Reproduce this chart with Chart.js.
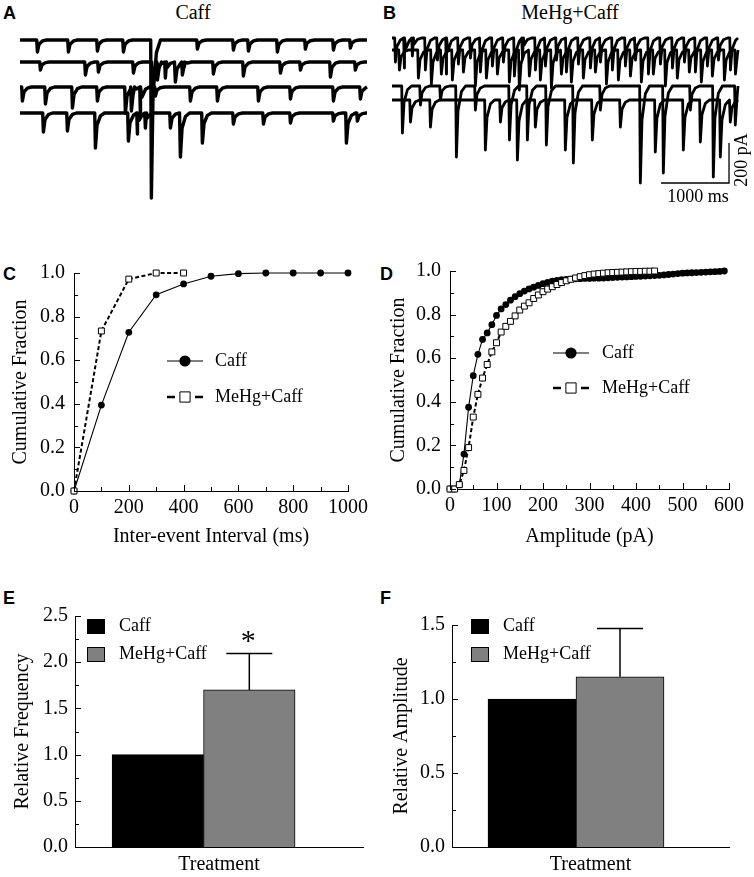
<!DOCTYPE html>
<html><head><meta charset="utf-8">
<script src="https://cdn.jsdelivr.net/npm/chart.js@4.4.1/dist/chart.umd.min.js"></script>
<style>
html,body{margin:0;padding:0;background:#fff;}
#fig{position:relative;width:754px;height:877px;overflow:hidden;background:#fff;}
canvas{position:absolute;}
.lbl{position:absolute;font-family:'Liberation Sans',Arial,sans-serif;font-weight:bold;font-size:18px;line-height:18px;color:#000;}
.ttl{position:absolute;font-family:'Liberation Serif','Times New Roman',serif;font-size:20px;line-height:20px;color:#000;white-space:nowrap;transform:translateX(-50%);}
</style></head><body>
<div id="fig">
  <div class="lbl" style="left:3px;top:4px">A</div>
  <div class="lbl" style="left:383px;top:4px">B</div>
  <div class="lbl" style="left:3px;top:265px">C</div>
  <div class="lbl" style="left:380px;top:265px">D</div>
  <div class="lbl" style="left:3px;top:589px">E</div>
  <div class="lbl" style="left:380px;top:589px">F</div>
  <div class="ttl" style="left:193px;top:2px">Caff</div>
  <div class="ttl" style="left:570px;top:2px">MeHg+Caff</div>
  <canvas id="cA" width="380" height="185" style="left:0px;top:25px"></canvas>
  <canvas id="cB" width="374" height="185" style="left:380px;top:25px"></canvas>
  <canvas id="cC" width="377" height="300" style="left:0px;top:250px"></canvas>
  <canvas id="cD" width="377" height="300" style="left:377px;top:250px"></canvas>
  <canvas id="cE" width="377" height="287" style="left:0px;top:590px"></canvas>
  <canvas id="cF" width="377" height="287" style="left:377px;top:590px"></canvas>
</div>
<script>
// ---------------- DATA ----------------
// Panel A (Caff) sample traces: event times (ms) and amplitudes (pA, inward)
const caffTrace1Times = [250, 706, 1132, 1515, 1926, 2603, 3132, 3353, 3779, 4191, 4603, 4853];
const caffTrace1Amps  = [60, 60, 55, 60, 790, 45, 50, 55, 60, 45, 50, 40];
const caffTrace2Times = [294, 956, 1147, 1662, 1941, 2015, 2132, 2279, 2382, 2838, 3279, 3824, 4118, 4559, 4926];
const caffTrace2Amps  = [40, 65, 50, 55, 130, 90, 80, 100, 65, 60, 70, 55, 40, 75, 40];
const caffTrace3Times = [29, 368, 765, 1132, 1544, 1632, 1765, 1985, 2500, 2897, 3500, 3971, 4603, 5000];
const caffTrace3Amps  = [70, 85, 105, 70, 130, 120, 145, 45, 70, 70, 70, 60, 70, 60];
const caffTrace4Times = [338, 691, 1103, 1588, 1721, 1838, 2206, 2353, 2676, 3132, 3574, 3971, 4603, 4794, 4956];
const caffTrace4Amps  = [95, 90, 175, 140, 105, 75, 75, 220, 150, 55, 55, 50, 40, 150, 40];
// Panel B (MeHg+Caff) sample traces
const mehgTrace1Times = [44, 176, 294, 485, 662, 794, 970, 1147, 1294, 1470, 1632, 1794, 1912, 2103, 2250, 2412, 2559, 2735, 2912, 3059, 3235, 3426, 3574, 3765, 3941, 4118, 4294, 4456, 4632, 4794, 4971];
const mehgTrace1Amps  = [120, 150, 90, 160, 110, 180, 130, 100, 170, 140, 120, 190, 100, 160, 140, 110, 170, 130, 150, 120, 160, 140, 110, 180, 130, 150, 120, 170, 140, 110, 160];
const mehgTrace2Times = [103, 382, 573, 720, 882, 1044, 1220, 1382, 1544, 1720, 1867, 2014, 2176, 2338, 2485, 2632, 2808, 2985, 3147, 3323, 3500, 3661, 3837, 4014, 4190, 4366, 4543, 4705, 4882, 5044];
const mehgTrace2Amps  = [100, 140, 170, 120, 150, 110, 180, 140, 120, 160, 200, 130, 150, 190, 120, 160, 140, 110, 170, 150, 130, 160, 120, 180, 140, 110, 160, 130, 150, 120];
const mehgTrace3Times = [147, 412, 706, 941, 1220, 1721, 1985, 2264, 2661, 3058, 3646, 3984, 4381, 4719, 5042];
const mehgTrace3Amps  = [235, 95, 70, 355, 120, 270, 270, 295, 385, 120, 485, 435, 120, 455, 195];
const mehgTrace4Times = [265, 559, 1367, 1588, 1838, 2102, 2543, 2940, 3352, 3866, 4278, 4528, 4822, 4969];
const mehgTrace4Amps  = [110, 135, 250, 110, 300, 135, 250, 200, 135, 260, 250, 210, 285, 110];

// Panel C: cumulative inter-event interval
const intervalMs        = [0, 100, 200, 300, 400, 500, 600, 700, 800, 900, 1000];
const caffIntervalFrac  = [0, 0.394, 0.728, 0.900, 0.950, 0.985, 0.997, 1.0, 1.0, 1.0, 1.0];
const mehgIntervalMs    = [0, 100, 200, 300, 400];
const mehgIntervalFrac  = [0, 0.734, 0.972, 1.0, 1.0];

// Panel D: cumulative amplitude
const caffAmpPA = [0,10,20,30,40,50,60,70,80,90,100,110,120,130,140,150,160,170,180,190,200,210,220,230,240,250,260,270,280,290,300,310,320,330,340,350,360,370,380,390,400,410,420,430,440,450,460,470,480,490,500,510,520,530,540,550,560,570,580,590];
const caffAmpFrac = [0,0,0.02,0.16,0.375,0.52,0.618,0.686,0.716,0.754,0.796,0.826,0.846,0.866,0.882,0.896,0.908,0.918,0.926,0.934,0.942,0.948,0.953,0.957,0.96,0.962,0.963,0.964,0.965,0.966,0.966,0.967,0.967,0.968,0.969,0.970,0.971,0.972,0.973,0.974,0.975,0.976,0.977,0.978,0.979,0.980,0.982,0.984,0.986,0.988,0.99,0.991,0.992,0.993,0.994,0.995,0.996,0.997,0.998,1.0];
const mehgAmpPA = [0,10,20,30,40,50,60,70,80,90,100,110,120,130,140,150,160,170,180,190,200,210,220,230,240,250,260,270,280,290,300,310,320,330,340,350,360,370,380,390,400,410,420,430,440];
const mehgAmpFrac = [0,0,0.02,0.085,0.19,0.33,0.434,0.509,0.571,0.629,0.671,0.72,0.746,0.769,0.794,0.821,0.839,0.854,0.874,0.89,0.905,0.917,0.928,0.938,0.947,0.955,0.962,0.968,0.974,0.979,0.983,0.986,0.988,0.99,0.992,0.993,0.994,0.995,0.996,0.997,0.998,0.998,0.999,0.999,1.0];

// Panels E, F: bar summaries
const groupNames  = ['Caff', 'MeHg+Caff'];
const freqMean    = [1.0, 1.70];
const freqErr     = [0, 0.40];
const freqMark    = ['', '*'];
const ampMean     = [1.0, 1.15];
const ampErr      = [0, 0.33];
const ampMark     = ['', ''];

// ---------------- STYLE / LAYOUT ----------------
const SERIF = "'Liberation Serif','Times New Roman',serif";
Chart.defaults.font.family = SERIF;
Chart.defaults.color = '#000';
Chart.defaults.animation = false;
Chart.defaults.responsive = false;
Chart.defaults.devicePixelRatio = 1;
Chart.defaults.events = [];
Chart.defaults.plugins.legend.display = false;
Chart.defaults.plugins.tooltip.enabled = false;

function buildTrace(times, amps, offset, endMs) {
  const pts = [{x: 0, y: offset}];
  times.forEach((t, i) => {
    const a = amps[i];
    pts.push({x: t - 4, y: offset}, {x: t + 6, y: offset - a}, {x: t + 30, y: offset - a * 0.35},
             {x: t + 80, y: offset - a * 0.08}, {x: t + 140, y: offset});
  });
  pts.push({x: endMs, y: offset});
  pts.sort((p, q) => p.x - q.x);
  return pts;
}

const scaleBarPlugin = {
  id: 'scaleBar',
  afterDatasetsDraw(chart, args, o) {
    if (!o || !o.enabled) return;
    const xs = chart.scales.x, ys = chart.scales.y, ctx = chart.ctx;
    const x1 = xs.getPixelForValue(o.endMs - o.ms), x2 = xs.getPixelForValue(o.endMs);
    const yb = ys.getPixelForValue(o.basePA), yt = ys.getPixelForValue(o.basePA + o.pA);
    ctx.save();
    ctx.strokeStyle = '#000'; ctx.lineWidth = 1.3;
    ctx.beginPath(); ctx.moveTo(x1, yb); ctx.lineTo(x2, yb); ctx.lineTo(x2, yt); ctx.stroke();
    ctx.fillStyle = '#000'; ctx.font = '18px ' + SERIF;
    ctx.textAlign = 'center'; ctx.textBaseline = 'middle';
    ctx.fillText(o.msLabel, (x1 + x2) / 2 + 3, yb + 14);
    ctx.translate(x2 + 13, (yb + yt) / 2 - 3); ctx.rotate(-Math.PI / 2);
    ctx.fillText(o.pALabel, 0, 0);
    ctx.restore();
  }
};

const inTicks = {
  id: 'inTicks',
  afterDraw(chart, args, o) {
    if (!o || (!o.x && !o.y)) return;
    const ctx = chart.ctx;
    ctx.save(); ctx.strokeStyle = '#000'; ctx.lineWidth = 1;
    ['x', 'y'].forEach(id => {
      const spec = o[id]; if (!spec) return;
      const s = chart.scales[id];
      const n = Math.round((spec.max - spec.min) / spec.step);
      for (let i = 0; i <= n; i++) {
        const v = spec.min + i * spec.step;
        const len = (i % spec.every === 0) ? spec.major : spec.minor;
        const p = Math.round(s.getPixelForValue(v)) + 0.5;
        ctx.beginPath();
        if (id === 'x') { ctx.moveTo(p, s.top); ctx.lineTo(p, s.top - len); }
        else { ctx.moveTo(s.right, p); ctx.lineTo(s.right + len, p); }
        ctx.stroke();
      }
    });
    ctx.restore();
  }
};

const curveLegend = {
  id: 'curveLegend',
  afterDraw(chart, args, o) {
    if (!o || !o.items) return;
    const ctx = chart.ctx;
    o.items.forEach((it, i) => {
      const ds = chart.data.datasets[it.ds];
      const x = o.x, y = o.y + i * o.dy, h = o.half;
      ctx.save();
      ctx.strokeStyle = '#000';
      ctx.lineWidth = it.lw;
      ctx.beginPath();
      if (it.split) { ctx.moveTo(x - h, y); ctx.lineTo(x - h + 8, y); ctx.moveTo(x + h - 8, y); ctx.lineTo(x + h, y); }
      else { ctx.moveTo(x - h, y); ctx.lineTo(x + h, y); }
      ctx.stroke();
      ctx.lineWidth = 1;
      if (it.marker === 'circle') {
        ctx.fillStyle = '#000'; ctx.beginPath(); ctx.arc(x, y, o.r, 0, Math.PI * 2); ctx.fill();
      } else {
        ctx.fillStyle = '#fff'; ctx.beginPath(); ctx.rect(x - o.r + 0.5, y - o.r + 0.5, 2 * o.r - 1, 2 * o.r - 1); ctx.fill(); ctx.stroke();
      }
      ctx.fillStyle = '#000'; ctx.font = '18px ' + SERIF; ctx.textAlign = 'left'; ctx.textBaseline = 'middle';
      ctx.fillText(ds.label, o.tx, y);
      ctx.restore();
    });
  }
};

const barExtras = {
  id: 'barExtras',
  afterDatasetsDraw(chart, args, o) {
    if (!o || !o.err) return;
    const ctx = chart.ctx, ys = chart.scales.y;
    ctx.save();
    chart.data.datasets.forEach((ds, i) => {
      const bar = chart.getDatasetMeta(i).data[0];
      const err = o.err[i], mean = o.mean[i];
      if (err > 0) {
        const yTop = Math.round(ys.getPixelForValue(mean + err)) + 0.5;
        ctx.strokeStyle = '#000'; ctx.lineWidth = 1.5;
        ctx.beginPath(); ctx.moveTo(bar.x, bar.y); ctx.lineTo(bar.x, yTop);
        ctx.moveTo(bar.x - o.cap, yTop); ctx.lineTo(bar.x + o.cap, yTop); ctx.stroke();
        if (o.mark[i]) {
          ctx.fillStyle = '#000'; ctx.font = '30px ' + SERIF; ctx.textAlign = 'center'; ctx.textBaseline = 'alphabetic';
          ctx.fillText(o.mark[i], bar.x - 1, yTop - 4);
        }
      }
    });
    o.legend.forEach((lg, i) => {
      const y = o.ly + i * o.ldy;
      ctx.fillStyle = chart.data.datasets[i].backgroundColor;
      ctx.fillRect(o.lx, y, 18, 15);
      ctx.strokeStyle = '#000'; ctx.lineWidth = 1; ctx.strokeRect(o.lx + 0.5, y + 0.5, 17, 14);
      ctx.fillStyle = '#000'; ctx.font = '18px ' + SERIF; ctx.textAlign = 'left'; ctx.textBaseline = 'middle';
      ctx.fillText(lg, o.tx, y + 7.5);
    });
    ctx.restore();
  }
};

Chart.register(scaleBarPlugin, inTicks, curveLegend, barExtras);

// ---------------- TRACES ----------------
function traceChart(id, sets, offsets, xMax, padL, padR, lw, bar) {
  new Chart(document.getElementById(id), {
    type: 'line',
    data: { datasets: sets.map((s, i) => ({
      data: buildTrace(s[0], s[1], offsets[i], xMax),
      borderColor: '#000', borderWidth: lw, pointRadius: 0, tension: 0,
      borderJoinStyle: 'round', clip: false
    })) },
    options: {
      layout: { padding: { left: padL, right: padR, top: 0, bottom: 0 } },
      scales: {
        x: { type: 'linear', display: false, min: 0, max: xMax },
        y: { type: 'linear', display: false, min: -925, max: 0 }
      },
      plugins: { scaleBar: bar || { enabled: false } }
    }
  });
}
traceChart('cA', [[caffTrace1Times, caffTrace1Amps], [caffTrace2Times, caffTrace2Amps], [caffTrace3Times, caffTrace3Amps], [caffTrace4Times, caffTrace4Amps]],
  [-75, -185, -310, -440], 5103, 20, 13, 3.4);
traceChart('cB', [[mehgTrace1Times, mehgTrace1Amps], [mehgTrace2Times, mehgTrace2Amps], [mehgTrace3Times, mehgTrace3Amps], [mehgTrace4Times, mehgTrace4Amps]],
  [-65, -125, -305, -375], 5088, 12, 16, 2.8,
  { enabled: true, ms: 1000, pA: 200, endMs: 4956, basePA: -790, msLabel: '1000 ms', pALabel: '200 pA' });

// ---------------- CUMULATIVE ----------------
function cumChart(id, xs1, ys1, xs2, ys2, cfg) {
  new Chart(document.getElementById(id), {
    type: 'line',
    data: { datasets: [
      { label: 'MeHg+Caff', data: xs2.map((x, i) => ({x, y: ys2[i]})), borderColor: '#000', borderWidth: 2, borderDash: [4, 2.5],
        pointStyle: 'rect', pointRadius: 4.2, pointBackgroundColor: '#fff', pointBorderColor: '#000', pointBorderWidth: 1, tension: 0, clip: false },
      { label: 'Caff', data: xs1.map((x, i) => ({x, y: ys1[i]})), borderColor: '#000', borderWidth: 1.1,
        pointStyle: 'circle', pointRadius: 3.4, pointBackgroundColor: '#000', pointBorderColor: '#000', pointBorderWidth: 0, tension: 0, clip: false }
    ] },
    options: {
      layout: { padding: { left: 0, top: cfg.top, right: cfg.right, bottom: 0 } },
      scales: {
        x: { type: 'linear', min: 0, max: cfg.xMax,
          grid: { display: false, drawTicks: false }, border: { display: true, color: '#000', width: 1 },
          ticks: { stepSize: cfg.xStep, padding: 5, font: { size: 20 }, maxRotation: 0, autoSkip: false, callback: v => String(v) },
          title: { display: true, text: cfg.xTitle, font: { size: 20 }, padding: { top: 0, bottom: 1 } },
          afterFit(s) { s.height = cfg.xH; } },
        y: { type: 'linear', min: 0, max: 1,
          grid: { display: false, drawTicks: false }, border: { display: true, color: '#000', width: 1 },
          ticks: { stepSize: 0.2, padding: 9, font: { size: 20 }, callback: v => v.toFixed(1) },
          title: { display: true, text: 'Cumulative Fraction', font: { size: 20 }, padding: { top: cfg.yTitlePad, bottom: 0 } },
          afterFit(s) { s.width = cfg.yW; } }
      },
      plugins: {
        inTicks: { x: { min: 0, max: cfg.xMax, step: cfg.xMinor, every: 2, major: 6, minor: 4 },
                   y: { min: 0, max: 1, step: 0.1, every: 2, major: 6, minor: 4 } },
        curveLegend: { x: cfg.lgX, y: cfg.lgY, dy: cfg.lgDy, half: 18, r: 5.6, tx: cfg.lgTx,
          items: [ { ds: 1, marker: 'circle', lw: 1.2 }, { ds: 0, marker: 'rect', lw: 2.6, split: true } ] }
      }
    }
  });
}
cumChart('cC', intervalMs, caffIntervalFrac, mehgIntervalMs, mehgIntervalFrac,
  { xMax: 1000, xStep: 200, xMinor: 100, xTitle: 'Inter-event Interval (ms)', top: 23, right: 29, xH: 59, yW: 74, yTitlePad: 9,
    lgX: 185, lgY: 111, lgDy: 36, lgTx: 215 });
cumChart('cD', caffAmpPA, caffAmpFrac, mehgAmpPA, mehgAmpFrac,
  { xMax: 600, xStep: 100, xMinor: 50, xTitle: 'Amplitude (pA)', top: 18, right: 25, xH: 61, yW: 73, yTitlePad: 9.5,
    lgX: 194, lgY: 103, lgDy: 35, lgTx: 225 });

// ---------------- BARS ----------------
function barChart(id, means, errs, marks, cfg) {
  new Chart(document.getElementById(id), {
    type: 'bar',
    data: { datasets: groupNames.map((g, i) => ({
      label: g, data: [{ x: 0, y: means[i] }],
      backgroundColor: i === 0 ? '#000000' : '#808080', borderColor: '#000', borderWidth: 1,
      barThickness: cfg.bw
    })) },
    options: {
      layout: { padding: { left: 0, top: cfg.top, right: cfg.right, bottom: 0 } },
      scales: {
        x: { type: 'linear', min: -1, max: cfg.xMax, offset: false,
          grid: { display: false, drawTicks: false }, border: { display: true, color: '#000', width: 1 },
          ticks: { display: false },
          title: { display: true, text: 'Treatment', font: { size: 20 }, padding: { top: 0, bottom: 0 } },
          afterFit(s) { s.height = 30; } },
        y: { type: 'linear', min: 0, max: cfg.yMax,
          grid: { display: false, drawTicks: false }, border: { display: true, color: '#000', width: 1 },
          ticks: { stepSize: 0.5, padding: 7, font: { size: 20 }, callback: v => v.toFixed(1) },
          title: { display: true, text: cfg.yTitle, font: { size: 20 }, padding: { top: cfg.yTitlePad, bottom: 0 } },
          afterFit(s) { s.width = 75; } }
      },
      plugins: {
        inTicks: { y: { min: 0, max: cfg.yMax, step: 0.25, every: 2, major: 6, minor: 4 } },
        barExtras: { mean: means, err: errs, mark: marks, cap: 23, legend: groupNames, lx: cfg.lx, ly: 29, ldy: 28, tx: cfg.tx }
      }
    }
  });
}
barChart('cE', freqMean, freqErr, freqMark, { bw: 91.5, xMax: 1.24, top: 26, right: 14, yMax: 2.5, yTitle: 'Relative Frequency', yTitlePad: 11, lx: 87, tx: 119 });
barChart('cF', ampMean, ampErr, ampMark, { bw: 88, xMax: 1.234, top: 35, right: 25, yMax: 1.5, yTitle: 'Relative Amplitude', yTitlePad: 13, lx: 94, tx: 126 });
</script>
</body></html>
